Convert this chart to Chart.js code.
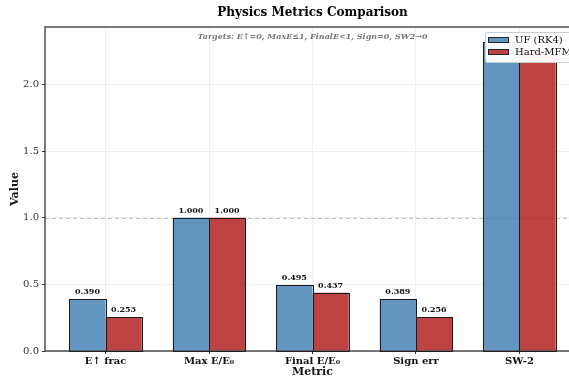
<!DOCTYPE html>
<html>
<head>
<meta charset="utf-8">
<script src="https://cdn.jsdelivr.net/npm/chart.js@4.4.1/dist/chart.umd.min.js"></script>
<style>
  html, body { margin: 0; padding: 0; background: #fff; overflow: hidden; }
  #wrap { position: relative; width: 590px; height: 379px; }
</style>
</head>
<body>
<div id="wrap"><canvas id="chart"></canvas></div>
<script>
const metricas = ["E\u2191 frac", "Max E/E\u2080", "Final E/E\u2080", "Sign err", "SW-2"];
const valoresUF = [0.390, 1.000, 0.495, 0.389, 2.316];
const valoresMFM = [0.253, 1.000, 0.437, 0.256, 2.25];
const etiquetasY = [0, 0.5, 1.0, 1.5, 2.0];
const nota = "Targets: E\u2191=0, MaxE\u22641, FinalE<1, Sign=0, SW2\u21920";

const serif = "'DejaVu Serif', serif";
const azul = "rgba(70, 130, 180, 0.85)";
const rojo = "rgba(178, 34, 34, 0.85)";

const puntos = (vals) => vals.map((v, i) => ({ x: i, y: v }));

// titulo, marco, nota, linea de referencia, bordes, etiquetas y leyenda
const extras = {
  id: "extras",
  beforeDatasetsDraw(chart) {
    const { ctx, chartArea, scales } = chart;
    const y1 = scales.y.getPixelForValue(1.0);
    ctx.save();
    ctx.strokeStyle = "rgba(150,150,150,0.6)";
    ctx.lineWidth = 1;
    ctx.setLineDash([4, 3]);
    ctx.beginPath();
    ctx.moveTo(chartArea.left, Math.round(y1) + 0.5);
    ctx.lineTo(chartArea.right, Math.round(y1) + 0.5);
    ctx.stroke();
    ctx.restore();
  },
  afterDatasetsDraw(chart) {
    const { ctx, chartArea } = chart;
    ctx.save();

    // bordes de las barras, alineados al pixel
    ctx.strokeStyle = "#1a1a1a";
    ctx.lineWidth = 1;
    chart.data.datasets.forEach((ds, di) => {
      chart.getDatasetMeta(di).data.forEach((bar) => {
        const p = bar.getProps(["x", "y", "base", "width"], true);
        const x0 = Math.round(p.x - p.width / 2) + 0.5;
        const x1 = Math.round(p.x + p.width / 2) + 0.5;
        const y0 = Math.round(p.y) + 0.5;
        const yb = Math.round(p.base) + 0.5;
        ctx.strokeRect(x0, y0, x1 - x0, yb - y0);
      });
    });

    // marco
    ctx.strokeStyle = "#222";
    ctx.lineWidth = 1.2;
    ctx.strokeRect(chartArea.left, chartArea.top, chartArea.right - chartArea.left, chartArea.bottom - chartArea.top);

    // titulo
    const cx = (chartArea.left + chartArea.right) / 2;
    ctx.fillStyle = "#000";
    ctx.textAlign = "center";
    ctx.textBaseline = "middle";
    ctx.font = "bold 12px " + serif;
    ctx.fillText("Physics Metrics Comparison", cx, 13);

    // nota
    ctx.fillStyle = "#777";
    ctx.font = "italic bold 8px " + serif;
    ctx.fillText(nota, cx, 37);

    // valores sobre las barras (sin SW-2)
    ctx.fillStyle = "#111";
    ctx.font = "bold 8px " + serif;
    ctx.textBaseline = "bottom";
    chart.data.datasets.forEach((ds, di) => {
      const meta = chart.getDatasetMeta(di);
      meta.data.forEach((bar, i) => {
        if (i === metricas.length - 1) return;
        ctx.fillText(ds.data[i].y.toFixed(3), bar.x, bar.y - 3);
      });
    });

    // leyenda
    const lx = 485, ly = 32, lw = 100, lh = 30;
    ctx.fillStyle = "rgba(255,255,255,0.95)";
    ctx.strokeStyle = "#cccccc";
    ctx.lineWidth = 1;
    ctx.beginPath();
    ctx.roundRect(lx + 0.5, ly + 0.5, lw, lh, 2);
    ctx.fill();
    ctx.stroke();
    ctx.font = "10px " + serif;
    ctx.textAlign = "left";
    ctx.textBaseline = "middle";
    chart.data.datasets.forEach((ds, di) => {
      const ry = ly + 8 + di * 12;
      ctx.fillStyle = ds.backgroundColor;
      ctx.fillRect(lx + 3.5, ry - 2.5, 20, 5);
      ctx.strokeStyle = "#222";
      ctx.strokeRect(lx + 3.5, ry - 2.5, 20, 5);
      ctx.fillStyle = "#111";
      ctx.fillText(ds.label, lx + 30, ry + 0.5);
    });
    ctx.restore();
  }
};

const estiloBarra = {
  borderWidth: 0,
  inflateAmount: 0,
  categoryPercentage: 0.7,
  barPercentage: 1.0
};

new Chart(document.getElementById("chart"), {
  type: "bar",
  data: {
    datasets: [
      Object.assign({ label: "UF (RK4)", data: puntos(valoresUF), backgroundColor: azul }, estiloBarra),
      Object.assign({ label: "Hard-MFM", data: puntos(valoresMFM), backgroundColor: rojo }, estiloBarra)
    ]
  },
  options: {
    responsive: true,
    maintainAspectRatio: false,
    animation: false,
    layout: { padding: { top: 27, right: 10, left: 0, bottom: 0 } },
    plugins: {
      legend: { display: false },
      tooltip: { enabled: false }
    },
    scales: {
      x: {
        type: "linear",
        min: -0.585,
        max: 4.585,
        offset: false,
        afterBuildTicks: (axis) => { axis.ticks = metricas.map((m, i) => ({ value: i })); },
        afterFit: (axis) => { axis.height = 28; },
        ticks: {
          callback: (v) => metricas[v],
          color: "#111",
          font: { family: serif, size: 10, weight: "bold" },
          padding: 1,
          maxRotation: 0,
          autoSkip: false
        },
        grid: { offset: false, color: "rgba(0,0,0,0.06)", tickColor: "#333", tickLength: 3 },
        border: { display: false },
        title: {
          display: true,
          text: "Metric",
          color: "#111",
          font: { family: serif, size: 11, weight: "bold" },
          padding: { top: 0, bottom: 0 }
        }
      },
      y: {
        min: 0,
        max: 2.432,
        afterBuildTicks: (axis) => { axis.ticks = etiquetasY.map((v) => ({ value: v })); },
        afterFit: (axis) => { axis.width = 45; },
        ticks: {
          callback: (v) => v.toFixed(1),
          color: "#333",
          font: { family: serif, size: 10 },
          padding: 3
        },
        grid: { color: "rgba(0,0,0,0.06)", tickColor: "#333", tickLength: 3 },
        border: { display: false },
        title: {
          display: true,
          text: "Value",
          color: "#111",
          font: { family: serif, size: 11, weight: "bold" },
          padding: { top: 9, bottom: 0 }
        }
      }
    }
  },
  plugins: [extras]
});
</script>
</body>
</html>
